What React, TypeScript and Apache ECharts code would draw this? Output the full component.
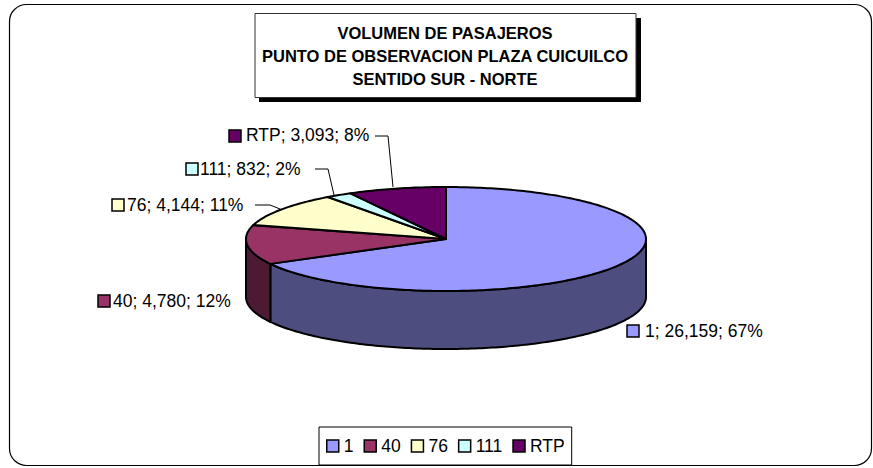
import React, { useEffect, useRef } from "react";
import * as echarts from "echarts";

const categories = ["1", "40", "76", "111", "RTP"];
const passengers = [26159, 4780, 4144, 832, 3093];
const percents = [67, 12, 11, 2, 8];
const topColors = ["#9999FF", "#993366", "#FFFFCC", "#CCFFFF", "#660066"];
const wallColors = ["#4D4D80", "#4D1A33", "#80805F", "#608080", "#330033"];
const titleText = "VOLUMEN DE PASAJEROS\nPUNTO DE OBSERVACION PLAZA CUICUILCO\nSENTIDO SUR - NORTE";

const PIE = { cx: 446, cy: 239, rx: 200, ry: 52, depth: 58 };
const LABEL_LAYOUT = [
  { mx: 627, my: 325, tx: 645, ty: 331, leader: null },
  { mx: 98, my: 295, tx: 113, ty: 301, leader: null },
  { mx: 112, my: 199, tx: 127, ty: 205, leader: [[255, 205], [270, 205], [280, 209]] },
  { mx: 186, my: 163, tx: 200, ty: 169, leader: [[315, 169], [328, 169], [334, 195]] },
  { mx: 229, my: 130, tx: 246, ty: 135, leader: [[375, 136], [388, 136], [393, 187]] },
];

const total = passengers.reduce((a, b) => a + b, 0);
const startFraction = (i: number) => passengers.slice(0, i).reduce((a, b) => a + b, 0) / total;

const ptAt = (deg: number, dy = 0): number[] => {
  const r = (deg * Math.PI) / 180;
  return [PIE.cx + PIE.rx * Math.sin(r), PIE.cy - PIE.ry * Math.cos(r) + dy];
};
const arc = (a: number, b: number, dy = 0): number[][] => {
  const out: number[][] = [];
  const n = Math.max(2, Math.ceil(Math.abs(b - a)));
  for (let k = 0; k <= n; k++) out.push(ptAt(a + ((b - a) * k) / n, dy));
  return out;
};

const sliceRenderer = (i: number) => (_params: any, api: any) => {
  const from = startFraction(i) * 360;
  const to = from + (api.value(0) / total) * 360;
  const children: any[] = [];
  const wa = Math.max(from, 90);
  const wb = Math.min(to, 270);
  if (wb > wa) {
    children.push({
      type: "polygon",
      shape: { points: [...arc(wa, wb), ...arc(wb, wa, PIE.depth)] },
      style: { fill: wallColors[i], stroke: "#000", lineWidth: 2, lineJoin: "round" },
    });
  }
  children.push({
    type: "polygon",
    shape: { points: [[PIE.cx, PIE.cy], ...arc(from, to)] },
    style: { fill: topColors[i], stroke: "#000", lineWidth: 2, lineJoin: "round" },
  });
  return { type: "group", children };
};

const FONT = "'Liberation Sans', Arial, sans-serif";

export default function App() {
  const ref = useRef<HTMLDivElement>(null);
  useEffect(() => {
    const chart = echarts.init(ref.current!, null, { renderer: "svg" });
    const labelEls: any[] = [];
    categories.forEach((c, i) => {
      const l = LABEL_LAYOUT[i];
      labelEls.push({
        type: "rect",
        z: 5,
        shape: { x: l.mx, y: l.my, width: 12, height: 12 },
        style: { fill: topColors[i], stroke: "#000", lineWidth: 1.5 },
      });
      labelEls.push({
        type: "text",
        z: 5,
        x: l.tx,
        y: l.ty,
        style: {
          text: `${c}; ${passengers[i].toLocaleString("en-US")}; ${percents[i]}%`,
          font: `17.5px ${FONT}`,
          fill: "#000",
          verticalAlign: "middle",
        },
      });
      if (l.leader) {
        labelEls.push({
          type: "polyline",
          z: 5,
          shape: { points: l.leader },
          style: { stroke: "#000", lineWidth: 1, fill: "none" },
        });
      }
    });
    chart.setOption({
      animation: false,
      backgroundColor: "#fff",
      title: {
        text: titleText,
        left: 440,
        top: 16,
        textAlign: "center",
        textStyle: { fontFamily: FONT, fontSize: 16.5, fontWeight: "bold", color: "#000", lineHeight: 23 },
      },
      legend: {
        data: categories,
        left: 319,
        top: 427,
        orient: "horizontal",
        padding: [10, 7],
        itemWidth: 12,
        itemHeight: 12,
        itemGap: 10,
        borderColor: "#000",
        borderWidth: 1,
        backgroundColor: "#fff",
        selectedMode: false,
        icon: "rect",
        itemStyle: { borderColor: "#000", borderWidth: 1.5 },
        textStyle: { fontFamily: FONT, fontSize: 17.5, color: "#000" },
      },
      graphic: {
        elements: [
          {
            type: "rect",
            z: 0,
            shape: { x: 9.5, y: 4.5, width: 862, height: 461, r: 17 },
            style: { fill: "#fff", stroke: "#000", lineWidth: 1.2 },
          },
          {
            type: "rect",
            z: 1,
            shape: { x: 259, y: 18, width: 382, height: 84 },
            style: { fill: "#000" },
          },
          {
            type: "rect",
            z: 1,
            shape: { x: 255, y: 13.5, width: 381, height: 84 },
            style: { fill: "#fff", stroke: "#333", lineWidth: 1 },
          },
          ...labelEls,
        ],
      },
      series: categories.map((name, i) => ({
        type: "custom",
        name,
        coordinateSystem: "none",
        silent: true,
        z: 3,
        itemStyle: { color: topColors[i] },
        data: [passengers[i]],
        renderItem: sliceRenderer(i),
      })),
    });
    return () => chart.dispose();
  }, []);
  return <div ref={ref} style={{ position: "absolute", left: 0, top: 0, width: 873, height: 468 }} />;
}
